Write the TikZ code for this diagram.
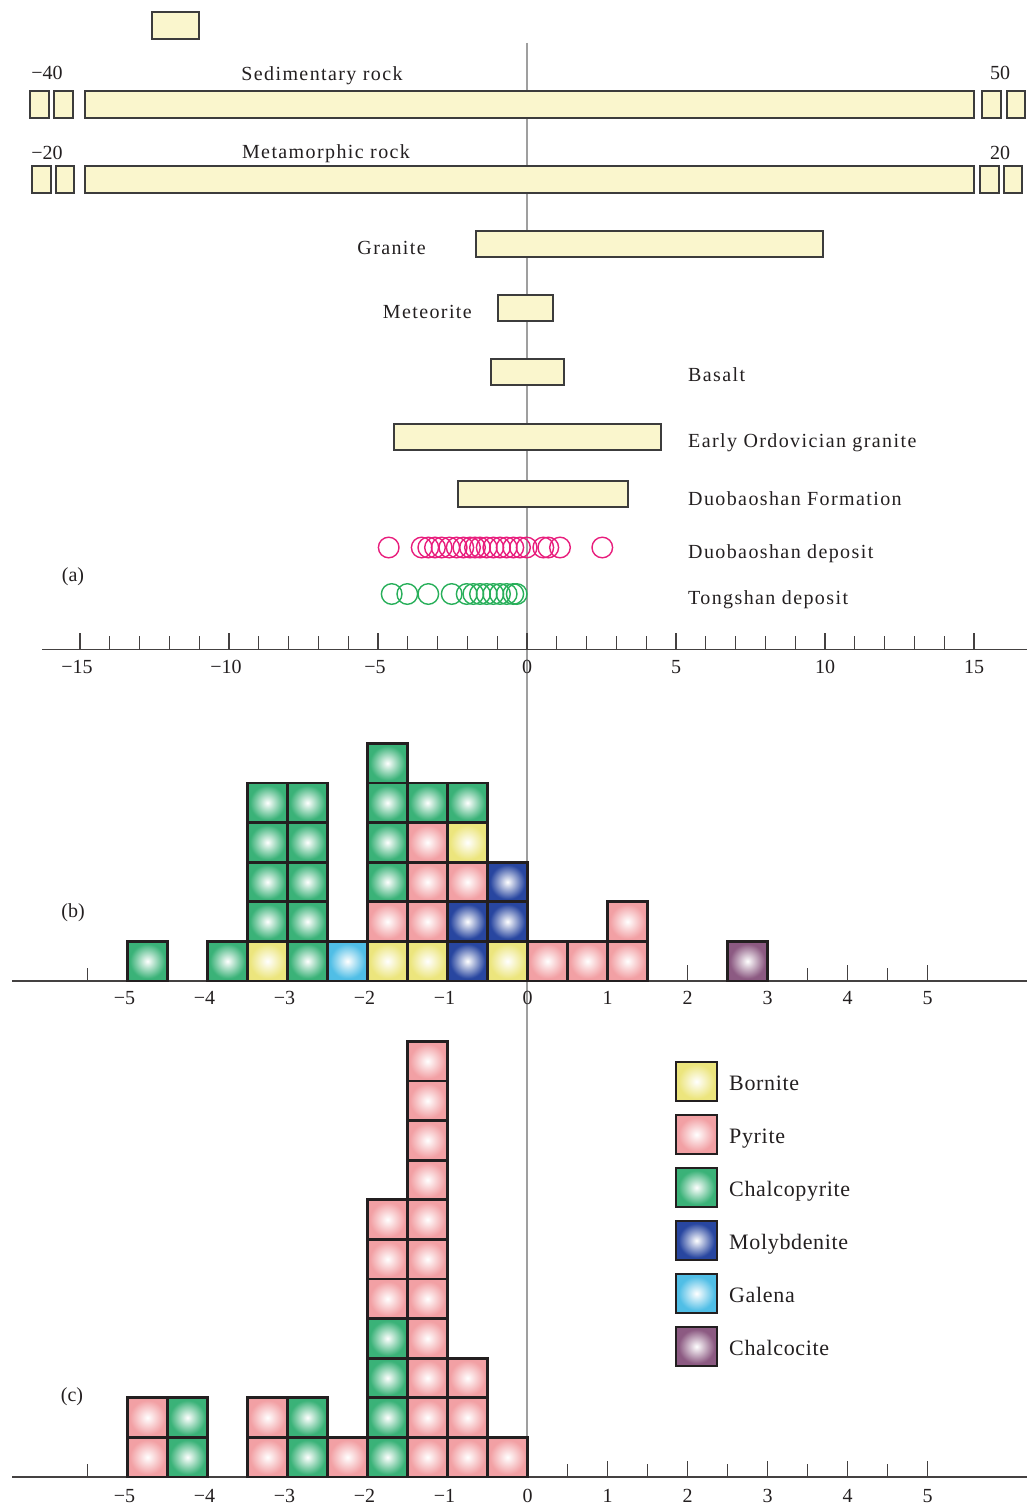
\documentclass[tikz,border=0pt]{standalone}
\usepackage{fontspec}
\setmainfont{Liberation Serif}
\newfontfamily\trk[LetterSpace=7]{Liberation Serif}
\definecolor{barfill}{RGB}{250,246,205}
\definecolor{barline}{RGB}{60,60,60}
\definecolor{ink}{RGB}{35,31,32}
\definecolor{mY}{RGB}{236,229,125}
\definecolor{mP}{RGB}{242,160,164}
\definecolor{mG}{RGB}{58,178,120}
\definecolor{mM}{RGB}{40,70,160}
\definecolor{mL}{RGB}{80,190,230}
\definecolor{mC}{RGB}{140,90,130}
\definecolor{circM}{RGB}{232,30,125}
\definecolor{circG}{RGB}{40,175,90}
\makeatletter
\pgfdeclareradialshading[tikz@radial@outer]{boxrad}{\pgfpointorigin}{color(0bp)=(white); color(22bp)=(tikz@radial@outer); color(50bp)=(tikz@radial@outer)}
\makeatother
\newcommand\mystack[3]{%
  \foreach \c [count=\i from 0] in {#3} {
    \shadedraw[mbox, outer color=m\c, shading=boxrad] ({527.5+80*#2},{#1-39.6*(\i+1)}) rectangle ++(40,39.6);
  }}
\begin{document}
\begin{tikzpicture}[x=1pt,y=-1pt,
  bar/.style={draw=barline, fill=barfill, line width=1.1pt},
  mbox/.style={draw=ink, line width=2.8pt},
  axis/.style={draw=ink!85, line width=1.4pt},
  tick/.style={draw=ink!85, line width=1.1pt},
  lab/.style={inner sep=0pt, font=\trk\fontsize{20}{22}\selectfont, text=ink},
  num/.style={inner sep=0pt, font=\fontsize{20}{22}\selectfont, text=ink, anchor=base},
  leg/.style={inner sep=0pt, font=\fontsize{22}{24}\selectfont\addfontfeature{LetterSpace=3}, text=ink, anchor=base west},
  circm/.style={draw=circM, line width=1.4pt},
  circg/.style={draw=circG, line width=1.4pt}]
\useasboundingbox (0,0) rectangle (1027,1504);
% zero line
\draw[gray!75, line width=1.2pt] (527,43) -- (527,1477);
% ---------------- panel (a)
\draw[bar] (152,12) rectangle (199,39);
% sedimentary
\draw[bar] (30,91) rectangle (49,118);
\draw[bar] (54,91) rectangle (73,118);
\draw[bar] (85,91) rectangle (974,118);
\draw[bar] (982,91) rectangle (1001,118);
\draw[bar] (1007,91) rectangle (1025,118);
% metamorphic
\draw[bar] (32,166) rectangle (51,193);
\draw[bar] (56,166) rectangle (74,193);
\draw[bar] (85,166) rectangle (974,193);
\draw[bar] (980,166) rectangle (999,193);
\draw[bar] (1004,166) rectangle (1022,193);
% others
\draw[bar] (476,231) rectangle (823,257);
\draw[bar] (498,295) rectangle (553,321);
\draw[bar] (491,359) rectangle (564,385);
\draw[bar] (394,424) rectangle (661,450);
\draw[bar] (458,481) rectangle (628,507);
% circles
\foreach \x in {388.7,421.7,428.3,435,441.7,449.3,456.7,463.3,470,475,480,486.7,493.3,500,506.7,513.3,520,526.7,543.3,548.3,560,602.3}
  \draw[circm] (\x,547.5) circle[radius=10.3];
\foreach \x in {391.7,407.3,428.3,451.7,466.7,473.3,480,486.7,493.3,500,506.7,513.3,516.7}
  \draw[circg] (\x,594) circle[radius=10.3];
% labels (a)
\node[num] (l40) at (47,80) {−40};
\node[lab, anchor=base] (lsed) at (322,81) {Sedimentary rock};
\node[num] (l50) at (1000,80) {50};
\node[num] (l20n) at (47,159) {−20};
\node[lab, anchor=base] (lmet) at (326,158) {Metamorphic rock};
\node[num] (l20) at (1000,159) {20};
\node[lab, anchor=base east] (lgra) at (426,254) {Granite};
\node[lab, anchor=base east] (lmeteo) at (472,318) {Meteorite};
\node[lab, anchor=base west] (lbas) at (688,381) {Basalt};
\node[lab, anchor=base west] (leog) at (688,447) {Early Ordovician granite};
\node[lab, anchor=base west] (ldf) at (688,505) {Duobaoshan Formation};
\node[lab, anchor=base west] (ldd) at (688,558) {Duobaoshan deposit};
\node[lab, anchor=base west] (ltd) at (688,604) {Tongshan deposit};
\node[num] (pa) at (73,581) {(a)};
% axis (a)
\draw[axis] (42,649.5) -- (1027,649.5);
\foreach \v in {-15,...,15} \draw[tick] ({527+29.8*\v},649.5) -- ++(0,-14);
\foreach \v in {-15,-10,...,15} \draw[tick] ({527+29.8*\v},649.5) -- ++(0,-17);
\foreach \v/\t in {-15/−15,-10/−10,-5/−5,0/0,5/5,10/10,15/15}
  \node[num] at ({527+29.8*\v-(\v<0?3:0)},673) {\t};
% ---------------- panel (b)
\draw[axis] (12,981) -- (1027,981);
\foreach \v in {-5.5,-5,...,5} \draw[tick] ({527.5+80*\v},981) -- ++(0,-13);
\foreach \v in {-5,...,5} \draw[tick] ({527.5+80*\v},981) -- ++(0,-16);
\mystack{981}{-5}{G}
\mystack{981}{-4}{G}
\mystack{981}{-3.5}{Y,G,G,G,G}
\mystack{981}{-3}{G,G,G,G,G}
\mystack{981}{-2.5}{L}
\mystack{981}{-2}{Y,P,G,G,G,G}
\mystack{981}{-1.5}{Y,P,P,P,G}
\mystack{981}{-1}{M,M,P,Y,G}
\mystack{981}{-0.5}{Y,M,M}
\mystack{981}{0}{P}
\mystack{981}{0.5}{P}
\mystack{981}{1}{P,P}
\mystack{981}{2.5}{C}
\foreach \v/\t in {-5/−5,-4/−4,-3/−3,-2/−2,-1/−1,0/0,1/1,2/2,3/3,4/4,5/5}
  \node[num] at ({527.5+80*\v-(\v<0?3:0)},1004) {\t};
\node[num] (pb) at (73,917) {(b)};
% ---------------- panel (c)
\draw[axis] (12,1477) -- (1027,1477);
\foreach \v in {-5.5,-5,...,5} \draw[tick] ({527.5+80*\v},1477) -- ++(0,-13);
\foreach \v in {-5,...,5} \draw[tick] ({527.5+80*\v},1477) -- ++(0,-16);
\mystack{1477}{-5}{P,P}
\mystack{1477}{-4.5}{G,G}
\mystack{1477}{-3.5}{P,P}
\mystack{1477}{-3}{G,G}
\mystack{1477}{-2.5}{P}
\mystack{1477}{-2}{G,G,G,G,P,P,P}
\mystack{1477}{-1.5}{P,P,P,P,P,P,P,P,P,P,P}
\mystack{1477}{-1}{P,P,P}
\mystack{1477}{-0.5}{P}
\foreach \v/\t in {-5/−5,-4/−4,-3/−3,-2/−2,-1/−1,0/0,1/1,2/2,3/3,4/4,5/5}
  \node[num] at ({527.5+80*\v-(\v<0?3:0)},1502) {\t};
\node[num] (pc) at (72,1401) {(c)};
% ---------------- legend
\foreach \c/\y/\t [count=\k] in {Y/1062/Bornite,P/1115/Pyrite,G/1168/Chalcopyrite,M/1221/Molybdenite,L/1274/Galena,C/1327/Chalcocite}{
  \shadedraw[mbox, outer color=m\c, shading=boxrad] (676,\y) rectangle ++(41,39);
  \node[leg] (leg\k) at (729,{\y+28}) {\t};
}
\end{tikzpicture}
\end{document}
